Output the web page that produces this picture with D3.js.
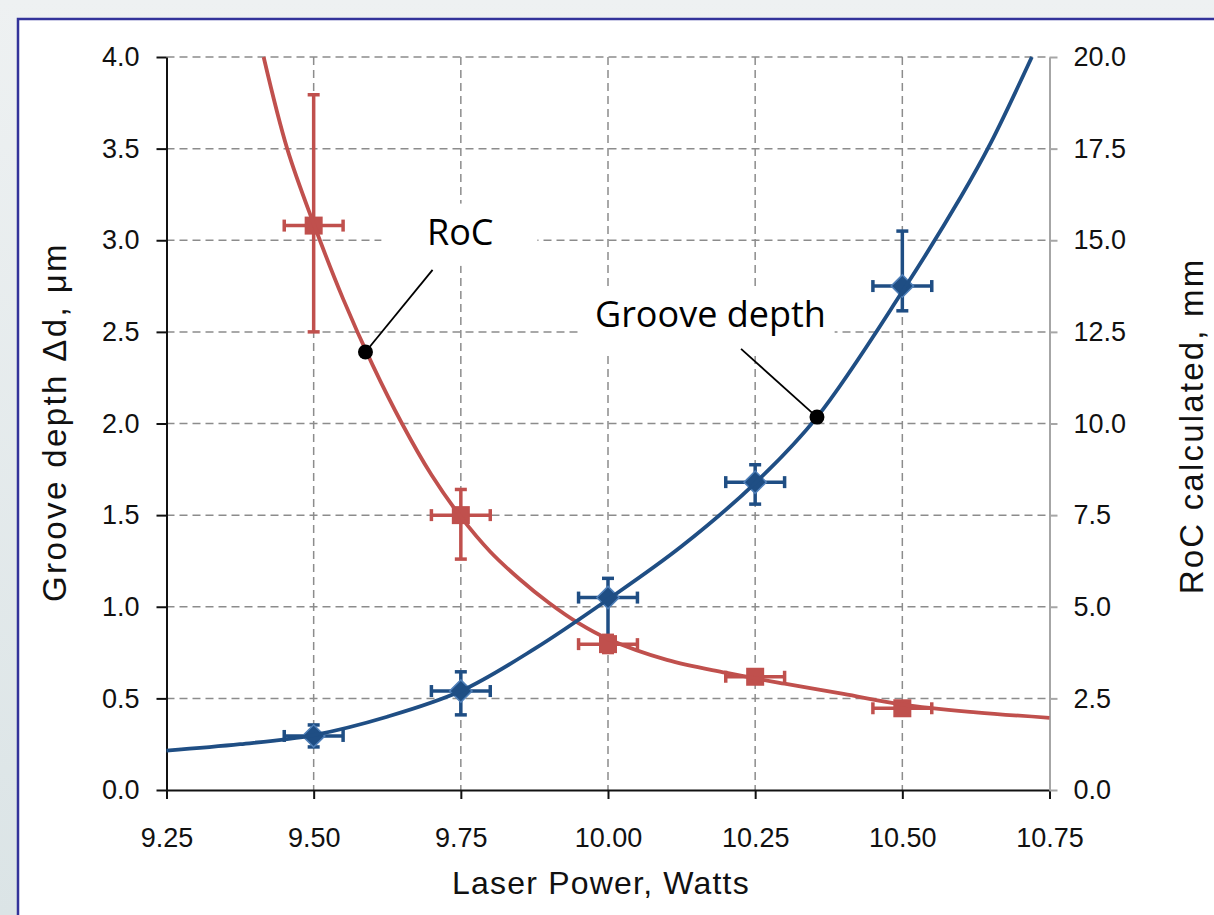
<!DOCTYPE html>
<html>
<head>
<meta charset="utf-8">
<script src="https://cdn.jsdelivr.net/npm/d3@7"></script>
<style>
  body { margin: 0; background: linear-gradient(#eef1f2, #dbe4e6); }
  svg { display: block; }
</style>
</head>
<body>
<script>
// measured points (laser power, W)
const powerX = [9.5, 9.75, 10.0, 10.25, 10.5];
const powerErr = 0.05;

// groove depth, um (left axis)
const depthVal = [0.295, 0.54, 1.05, 1.68, 2.75];
const depthHi = [0.355, 0.645, 1.155, 1.775, 3.05];
const depthLo = [0.235, 0.41, 0.83, 1.56, 2.615];

// RoC, mm (right axis)
const rocVal = [15.4, 7.5, 3.98, 3.09, 2.23];
const rocHi = [18.97, 8.2, 4.22, 3.2, 2.3];
const rocLo = [12.5, 6.3, 3.75, 3.0, 2.16];

// fitted curves
const depthFitX = [9.25, 9.375, 9.5, 9.625, 9.75, 9.875, 10.0, 10.125, 10.25, 10.355, 10.5, 10.6, 10.65, 10.72];
const depthFitY = [0.215, 0.25, 0.30, 0.40, 0.54, 0.77, 1.04, 1.33, 1.675, 2.035, 2.72, 3.24, 3.53, 4.0];
const rocFitX = [9.415, 9.455, 9.5, 9.55, 9.6, 9.65, 9.7, 9.75, 9.8, 9.85, 9.9, 9.95, 10.0, 10.1, 10.2, 10.3, 10.4, 10.5, 10.625, 10.75];
const rocFitY = [20, 17.5, 15.45, 13.4, 11.6, 10.0, 8.6, 7.45, 6.5, 5.75, 5.1, 4.55, 4.12, 3.55, 3.2, 2.9, 2.62, 2.33, 2.12, 1.97];

// axis ticks
const xTicks = [9.25, 9.5, 9.75, 10.0, 10.25, 10.5, 10.75];
const yLeftTicks = [0, 0.5, 1, 1.5, 2, 2.5, 3, 3.5, 4];
const yRightTicks = [0, 2.5, 5, 7.5, 10, 12.5, 15, 17.5, 20];

const w = 1214, h = 915;
const red = "#c0504d", blue = "#1f4e84";

const svg = d3.select("body").append("svg")
  .attr("width", w).attr("height", h);

svg.append("rect")
  .attr("x", 18).attr("y", 19).attr("width", w).attr("height", h)
  .attr("fill", "#fff").attr("stroke", "#33339a").attr("stroke-width", 2.5);

const x = d3.scaleLinear().domain([9.25, 10.75]).range([166.5, 1049.5]);
const yL = d3.scaleLinear().domain([0, 4]).range([790, 57]);
const yR = d3.scaleLinear().domain([0, 20]).range([790, 57]);

// grid
const grid = svg.append("g").attr("stroke", "#8c8c8c").attr("stroke-width", 1.5)
  .attr("stroke-dasharray", "8,5");
grid.selectAll(".hg").data(yLeftTicks.filter(d => d > 0)).enter().append("line")
  .attr("x1", x(9.25)).attr("x2", x(10.75))
  .attr("y1", d => yL(d)).attr("y2", d => yL(d));
grid.selectAll(".vg").data(xTicks.slice(1, -1)).enter().append("line")
  .attr("x1", d => x(d)).attr("x2", d => x(d))
  .attr("y1", yL(4)).attr("y2", yL(0));

// label boxes (hide the grid behind the text)
const labels = [
  {text: "RoC", px: 9.749, py: 2.974, x0: 9.615, x1: 9.88, y0: 3.2, y1: 2.86},
  {text: "Groove depth", px: 10.174, py: 2.527, x0: 9.955, x1: 10.385, y0: 2.73, y1: 2.39}
];
svg.selectAll(".lbox").data(labels).enter().append("rect")
  .attr("x", d => x(d.x0)).attr("y", d => yL(d.y0))
  .attr("width", d => x(d.x1) - x(d.x0)).attr("height", d => yL(d.y1) - yL(d.y0))
  .attr("fill", "#fff");

// axes
const fmt1 = d3.format(".1f");
const gL = svg.append("g").attr("transform", "translate(" + x(9.25) + ",0)")
  .call(d3.axisLeft(yL).tickValues(yLeftTicks).tickSize(10).tickSizeOuter(0).tickPadding(17).tickFormat(fmt1));
const gB = svg.append("g").attr("transform", "translate(0," + yL(0) + ")")
  .call(d3.axisBottom(x).tickValues(xTicks).tickSize(9).tickSizeOuter(0).tickPadding(29).tickFormat(d3.format(".2f")));
const gR = svg.append("g").attr("transform", "translate(" + x(10.75) + ",0)")
  .call(d3.axisRight(yR).tickValues(yRightTicks).tickSize(8).tickSizeOuter(0).tickPadding(16).tickFormat(fmt1));

[gL, gB, gR].forEach(g => {
  g.selectAll("text").attr("font-family", "Liberation Sans, Arial, sans-serif")
    .attr("font-size", 27).attr("fill", "#111");
  g.select(".domain").attr("stroke-width", 2);
  g.selectAll(".tick line").attr("stroke-width", 2);
});
gL.select(".domain").attr("stroke", "#111");
gB.select(".domain").attr("stroke", "#111");
gL.selectAll(".tick line").attr("stroke", "#111");
gB.selectAll(".tick line").attr("stroke", "#111");
gR.select(".domain").attr("stroke", "#a6a6a6");
gR.selectAll(".tick line").attr("stroke", "#a6a6a6");

// axis titles
const titleFont = "Liberation Sans, Arial, sans-serif";
svg.append("text").attr("x", 601).attr("y", 894).attr("text-anchor", "middle")
  .attr("font-family", titleFont).attr("font-size", 32).attr("letter-spacing", 1.2)
  .attr("fill", "#111").text("Laser Power, Watts");
svg.append("text").attr("transform", "translate(66,422) rotate(-90)").attr("text-anchor", "middle")
  .attr("font-family", titleFont).attr("font-size", 33).attr("letter-spacing", 2.4)
  .attr("fill", "#111").text("Groove depth \u0394d, \u03bcm");
svg.append("text").attr("transform", "translate(1203,426) rotate(-90)").attr("text-anchor", "middle")
  .attr("font-family", titleFont).attr("font-size", 33).attr("letter-spacing", 2.2)
  .attr("fill", "#111").text("RoC calculated, mm");

// error bars + markers
function drawSeries(vals, hi, lo, ys, color, shape) {
  const g = svg.append("g").attr("stroke", color).attr("stroke-width", 3.5);
  const pts = powerX.map((p, i) => ({p: p, v: vals[i], hi: hi[i], lo: lo[i]}));
  g.selectAll(".ev").data(pts).enter().append("line")
    .attr("x1", d => x(d.p)).attr("x2", d => x(d.p))
    .attr("y1", d => ys(d.hi)).attr("y2", d => ys(d.lo));
  g.selectAll(".evc").data(pts.flatMap(d => [d.hi, d.lo].map(v => ({p: d.p, v: v})))).enter().append("line")
    .attr("x1", d => x(d.p) - 6).attr("x2", d => x(d.p) + 6)
    .attr("y1", d => ys(d.v)).attr("y2", d => ys(d.v));
  g.selectAll(".eh").data(pts).enter().append("line")
    .attr("x1", d => x(d.p - powerErr)).attr("x2", d => x(d.p + powerErr))
    .attr("y1", d => ys(d.v)).attr("y2", d => ys(d.v));
  g.selectAll(".ehc").data(pts.flatMap(d => [d.p - powerErr, d.p + powerErr].map(p => ({p: p, v: d.v})))).enter().append("line")
    .attr("x1", d => x(d.p)).attr("x2", d => x(d.p))
    .attr("y1", d => ys(d.v) - 6).attr("y2", d => ys(d.v) + 6);
  if (shape === "square") {
    svg.append("g").selectAll("rect").data(pts).enter().append("rect")
      .attr("x", d => x(d.p) - 9).attr("y", d => ys(d.v) - 9)
      .attr("width", 18).attr("height", 18).attr("fill", color);
  } else {
    svg.append("g").selectAll("path").data(pts).enter().append("path")
      .attr("d", d3.symbol(d3.symbolSquare, 250))
      .attr("transform", d => "translate(" + x(d.p) + "," + ys(d.v) + ") rotate(45)")
      .attr("fill", color).attr("stroke", "#4f7fb8").attr("stroke-width", 1.5);
  }
}
drawSeries(depthVal, depthHi, depthLo, yL, blue, "diamond");
drawSeries(rocVal, rocHi, rocLo, yR, red, "square");

// fitted curves
const rocLine = d3.line().x(d => x(d[0])).y(d => yR(d[1])).curve(d3.curveCatmullRom.alpha(0.5));
const depthLine = d3.line().x(d => x(d[0])).y(d => yL(d[1])).curve(d3.curveCatmullRom.alpha(0.5));
svg.append("path").datum(rocFitX.map((p, i) => [p, rocFitY[i]]))
  .attr("d", rocLine).attr("fill", "none").attr("stroke", red).attr("stroke-width", 3.8);
svg.append("path").datum(depthFitX.map((p, i) => [p, depthFitY[i]]))
  .attr("d", depthLine).attr("fill", "none").attr("stroke", blue).attr("stroke-width", 3.8);

// callouts
const callouts = [
  {dx: 9.588, dy: yR(11.95), lx: 9.702, ly: yL(2.838)},
  {dx: 10.355, dy: yL(2.035), lx: 10.226, ly: yL(2.407)}
];
svg.selectAll(".lead").data(callouts).enter().append("line")
  .attr("x1", d => x(d.dx)).attr("y1", d => d.dy)
  .attr("x2", d => x(d.lx)).attr("y2", d => d.ly)
  .attr("stroke", "#000").attr("stroke-width", 1.8);
svg.selectAll(".dot").data(callouts).enter().append("circle")
  .attr("cx", d => x(d.dx)).attr("cy", d => d.dy).attr("r", 7.5).attr("fill", "#000");
svg.selectAll(".ltxt").data(labels).enter().append("text")
  .attr("x", d => x(d.px)).attr("y", d => yL(d.py)).attr("text-anchor", "middle")
  .attr("font-family", "Open Sans, sans-serif").attr("font-size", 36).attr("fill", "#000")
  .text(d => d.text);
</script>
</body>
</html>
